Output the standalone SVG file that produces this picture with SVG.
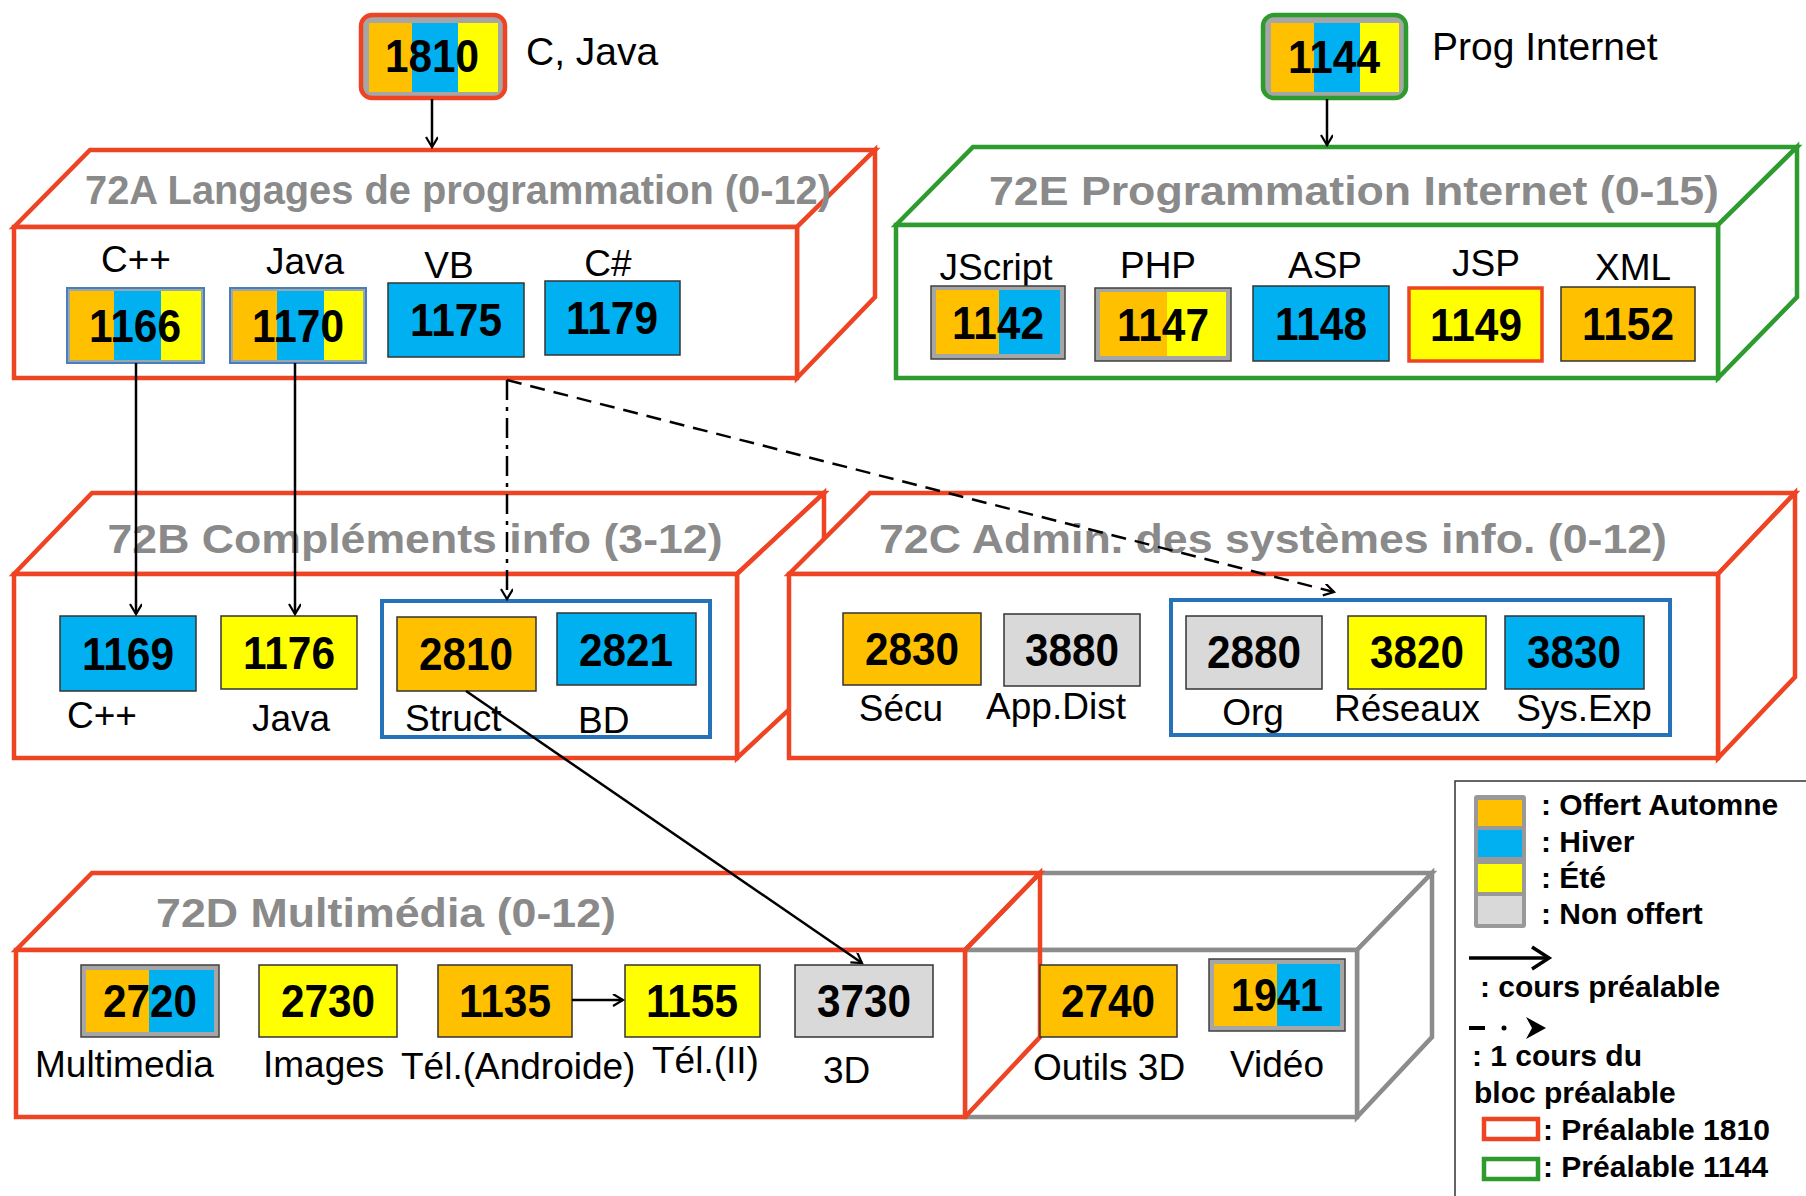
<svg xmlns="http://www.w3.org/2000/svg" width="1806" height="1196" viewBox="0 0 1806 1196">
<defs>
<marker id="ah" markerWidth="14" markerHeight="14" refX="11" refY="6" orient="auto" markerUnits="userSpaceOnUse">
<path d="M1,0 L11,6 L1,12" fill="none" stroke="#000" stroke-width="2.2"/>
</marker>
</defs>
<style>
text{font-family:"Liberation Sans",Arial,sans-serif}
.num{font-size:46px;font-weight:bold;fill:#000;text-anchor:middle}
.lbl{font-size:37px;fill:#000}
.lblc{font-size:37px;fill:#000;text-anchor:middle}
.title{font-size:40px;font-weight:bold;fill:#8a8a8a;text-anchor:middle}
.leg{font-size:30px;font-weight:bold;fill:#000}
.red{fill:none;stroke:#EF4423;stroke-width:4.5;stroke-linejoin:miter}
.redf{fill:#fff;stroke:#EF4423;stroke-width:4.5}
.grnf{fill:#fff;stroke:#2E9B2E;stroke-width:4.5}
.gryf{fill:#fff;stroke:#8C8C8C;stroke-width:4.5}
.grp{fill:none;stroke:#2672B8;stroke-width:4}
.o{fill:#FFC000}.b{fill:#00B0F0}.y{fill:#FFFF00}.g{fill:#D9D9D9}
.pl{stroke:#333;stroke-width:1.5}
.frame{fill:#A6A6A6;stroke:#404040;stroke-width:1.5}
.frameb{fill:#9AA6B0;stroke:#4A7EBB;stroke-width:2}
.con{fill:none;stroke:#000;stroke-width:2.5}
</style>
<rect width="1806" height="1196" fill="#fff"/>

<!-- 72A block -->
<g id="block72A">
<polygon class="redf" points="14,227 90,150 875,150 797,227"/>
<polygon class="redf" points="797,227 875,150 875,297 797,378"/>
<rect class="redf" x="14" y="227" width="783" height="151"/>
<text class="title" x="458" y="204" textLength="746" lengthAdjust="spacingAndGlyphs">72A Langages de programmation (0-12)</text>
<text class="lblc" x="136" y="272">C++</text>
<text class="lblc" x="305" y="274">Java</text>
<text class="lblc" x="449" y="278">VB</text>
<text class="lblc" x="608" y="276">C#</text>
</g>
<g id="c1166"><rect class="frameb" x="67" y="288" width="137" height="75"/><rect class="o" x="70" y="291" width="44" height="69"/><rect class="b" x="114" y="291" width="47" height="69"/><rect class="y" x="161" y="291" width="40" height="69"/><text class="num" x="135" y="342" textLength="92" lengthAdjust="spacingAndGlyphs">1166</text></g>
<g id="c1170"><rect class="frameb" x="230" y="288" width="136" height="75"/><rect class="o" x="233" y="291" width="44" height="69"/><rect class="b" x="277" y="291" width="47" height="69"/><rect class="y" x="324" y="291" width="39" height="69"/><text class="num" x="298" y="342" textLength="92" lengthAdjust="spacingAndGlyphs">1170</text></g>
<g id="c1175"><rect class="b pl" x="388" y="283" width="136" height="74"/><text class="num" x="456" y="336" textLength="92" lengthAdjust="spacingAndGlyphs">1175</text></g>
<g id="c1179"><rect class="b pl" x="545" y="281" width="135" height="74"/><text class="num" x="612" y="334" textLength="92" lengthAdjust="spacingAndGlyphs">1179</text></g>

<!-- 72E block -->
<g id="block72E">
<polygon class="grnf" points="896,225 973,147 1797,147 1718,225"/>
<polygon class="grnf" points="1718,225 1797,147 1797,297 1718,378"/>
<rect class="grnf" x="896" y="225" width="822" height="153"/>
<text class="title" x="1354" y="205" textLength="730" lengthAdjust="spacingAndGlyphs">72E Programmation Internet (0-15)</text>
<text class="lblc" x="996" y="280">JScript</text>
<text class="lblc" x="1158" y="278">PHP</text>
<text class="lblc" x="1325" y="278">ASP</text>
<text class="lblc" x="1486" y="276">JSP</text>
<text class="lblc" x="1633" y="280">XML</text>
</g>
<g id="c1142"><rect class="frame" x="931" y="286" width="134" height="73"/><rect class="o" x="936" y="290" width="63" height="64"/><rect class="b" x="999" y="290" width="61" height="64"/><text class="num" x="998" y="339" textLength="92" lengthAdjust="spacingAndGlyphs">1142</text></g>
<g id="c1147"><rect class="frame" x="1095" y="288" width="136" height="73"/><rect class="o" x="1100" y="292" width="67" height="64"/><rect class="y" x="1167" y="292" width="59" height="64"/><text class="num" x="1163" y="341" textLength="92" lengthAdjust="spacingAndGlyphs">1147</text></g>
<g id="c1148"><rect class="b pl" x="1253" y="286" width="136" height="75"/><text class="num" x="1321" y="340" textLength="92" lengthAdjust="spacingAndGlyphs">1148</text></g>
<g id="c1149"><rect class="y" x="1409" y="288" width="133" height="73" stroke="#EF4423" stroke-width="3.5"/><text class="num" x="1476" y="341" textLength="92" lengthAdjust="spacingAndGlyphs">1149</text></g>
<g id="c1152"><rect class="o pl" x="1561" y="287" width="134" height="74"/><text class="num" x="1628" y="340" textLength="92" lengthAdjust="spacingAndGlyphs">1152</text></g>

<!-- 72B block -->
<g id="block72B">
<polygon class="redf" points="14,574 92,493 824,493 737,574"/>
<polygon class="redf" points="737,574 824,493 824,677 737,758"/>
<rect class="redf" x="14" y="574" width="723" height="184"/>
<text class="title" x="415" y="553" textLength="615" lengthAdjust="spacingAndGlyphs">72B Compléments info (3-12)</text>
<rect class="grp" x="382" y="601" width="328" height="136"/>
<text class="lbl" x="67" y="728">C++</text>
<text class="lbl" x="252" y="731">Java</text>
<text class="lbl" x="405" y="731">Struct</text>
<text class="lbl" x="578" y="733">BD</text>
</g>
<g id="c1169"><rect class="b pl" x="60" y="616" width="136" height="75"/><text class="num" x="128" y="670" textLength="92" lengthAdjust="spacingAndGlyphs">1169</text></g>
<g id="c1176"><rect class="y pl" x="221" y="616" width="136" height="73"/><text class="num" x="289" y="669" textLength="92" lengthAdjust="spacingAndGlyphs">1176</text></g>
<g id="c2810"><rect class="o pl" x="397" y="617" width="139" height="74"/><text class="num" x="466" y="670" textLength="94" lengthAdjust="spacingAndGlyphs">2810</text></g>
<g id="c2821"><rect class="b pl" x="557" y="613" width="139" height="72"/><text class="num" x="626" y="666" textLength="94" lengthAdjust="spacingAndGlyphs">2821</text></g>

<!-- 72C block -->
<g id="block72C">
<polygon class="redf" points="789,574 870,493 1795,493 1718,574"/>
<polygon class="redf" points="1718,574 1795,493 1795,677 1718,758"/>
<rect class="redf" x="789" y="574" width="929" height="184"/>
<text class="title" x="1273" y="553" textLength="788" lengthAdjust="spacingAndGlyphs">72C Admin. des systèmes info. (0-12)</text>
<rect class="grp" x="1171" y="600" width="499" height="135"/>
<text class="lblc" x="901" y="721">Sécu</text>
<text class="lblc" x="1056" y="719">App.Dist</text>
<text class="lblc" x="1253" y="725">Org</text>
<text class="lblc" x="1407" y="721">Réseaux</text>
<text class="lblc" x="1584" y="721">Sys.Exp</text>
</g>
<g id="c2830"><rect class="o pl" x="843" y="613" width="138" height="72"/><text class="num" x="912" y="665" textLength="94" lengthAdjust="spacingAndGlyphs">2830</text></g>
<g id="c3880"><rect class="g pl" x="1004" y="614" width="136" height="72"/><text class="num" x="1072" y="666" textLength="94" lengthAdjust="spacingAndGlyphs">3880</text></g>
<g id="c2880"><rect class="g pl" x="1186" y="616" width="136" height="73"/><text class="num" x="1254" y="668" textLength="94" lengthAdjust="spacingAndGlyphs">2880</text></g>
<g id="c3820"><rect class="y pl" x="1348" y="616" width="138" height="73"/><text class="num" x="1417" y="668" textLength="94" lengthAdjust="spacingAndGlyphs">3820</text></g>
<g id="c3830"><rect class="b pl" x="1505" y="616" width="139" height="73"/><text class="num" x="1574" y="668" textLength="94" lengthAdjust="spacingAndGlyphs">3830</text></g>

<!-- grey block (not in 72D) -->
<g id="blockGray">
<polygon class="gryf" points="965,950 1040,873 1432,873 1357,950"/>
<polygon class="gryf" points="1357,950 1432,873 1432,1037 1357,1117"/>
<rect class="gryf" x="965" y="950" width="392" height="167"/>
<text class="lbl" x="1033" y="1080">Outils 3D</text>
<text class="lbl" x="1230" y="1077">Vidéo</text>
</g>
<!-- 72D block -->
<g id="block72D">
<polygon class="redf" points="16,950 92,873 1040,873 965,950"/>
<polyline class="red" points="965,950 1040,873 1040,1037 965,1117"/>
<rect class="redf" x="16" y="950" width="949" height="167"/>
<text class="title" x="386" y="927" textLength="460" lengthAdjust="spacingAndGlyphs">72D Multimédia (0-12)</text>
<text class="lbl" x="35" y="1077">Multimedia</text>
<text class="lbl" x="263" y="1077">Images</text>
<text class="lbl" x="401" y="1079">Tél.(Androide)</text>
<text class="lbl" x="652" y="1073">Tél.(II)</text>
<text class="lbl" x="823" y="1083">3D</text>
</g>
<g id="c2720"><rect class="frame" x="81" y="965" width="138" height="72"/><rect class="o" x="86" y="970" width="63" height="62"/><rect class="b" x="149" y="970" width="65" height="62"/><text class="num" x="150" y="1017" textLength="94" lengthAdjust="spacingAndGlyphs">2720</text></g>
<g id="c2730"><rect class="y pl" x="259" y="965" width="138" height="72"/><text class="num" x="328" y="1017" textLength="94" lengthAdjust="spacingAndGlyphs">2730</text></g>
<g id="c1135"><rect class="o pl" x="438" y="965" width="134" height="72"/><text class="num" x="505" y="1017" textLength="92" lengthAdjust="spacingAndGlyphs">1135</text></g>
<g id="c1155"><rect class="y pl" x="625" y="965" width="135" height="72"/><text class="num" x="692" y="1017" textLength="92" lengthAdjust="spacingAndGlyphs">1155</text></g>
<g id="c3730"><rect class="g pl" x="795" y="965" width="138" height="72"/><text class="num" x="864" y="1017" textLength="94" lengthAdjust="spacingAndGlyphs">3730</text></g>
<g id="c2740"><rect class="o pl" x="1040" y="965" width="137" height="72"/><text class="num" x="1108" y="1017" textLength="94" lengthAdjust="spacingAndGlyphs">2740</text></g>
<g id="c1941"><rect class="frame" x="1209" y="959" width="136" height="72"/><rect class="o" x="1214" y="964" width="63" height="62"/><rect class="b" x="1277" y="964" width="63" height="62"/><text class="num" x="1277" y="1011" textLength="92" lengthAdjust="spacingAndGlyphs">1941</text></g>

<!-- top prerequisite courses -->
<g id="c1810">
<rect x="361" y="15" width="144" height="83" rx="11" fill="#A6A6A6" stroke="#EF4423" stroke-width="4.5"/>
<rect class="o" x="369" y="23" width="43" height="69"/><rect class="b" x="412" y="23" width="46" height="69"/><rect class="y" x="458" y="23" width="40" height="69"/>
<text class="num" x="432" y="72" textLength="94" lengthAdjust="spacingAndGlyphs">1810</text>
<text class="lbl" x="526" y="65" style="font-size:39px">C, Java</text>
</g>
<g id="c1144">
<rect x="1263" y="15" width="143" height="83" rx="11" fill="#A6A6A6" stroke="#2E9B2E" stroke-width="4.5"/>
<rect class="o" x="1271" y="23" width="43" height="69"/><rect class="b" x="1314" y="23" width="46" height="69"/><rect class="y" x="1360" y="23" width="39" height="69"/>
<text class="num" x="1334" y="73" textLength="92" lengthAdjust="spacingAndGlyphs">1144</text>
<text class="lbl" x="1432" y="60" style="font-size:39px">Prog Internet</text>
</g>

<!-- connectors -->
<g id="connectors">
<line class="con" x1="432" y1="99" x2="432" y2="147" marker-end="url(#ah)"/>
<line class="con" x1="1327" y1="99" x2="1327" y2="145" marker-end="url(#ah)"/>
<line class="con" x1="136" y1="363" x2="136" y2="614" marker-end="url(#ah)"/>
<line class="con" x1="295" y1="363" x2="295" y2="614" marker-end="url(#ah)"/>
<line class="con" x1="507" y1="380" x2="507" y2="599" stroke-dasharray="20 7 4 7" stroke-width="3" marker-end="url(#ah)"/>
<line class="con" x1="507" y1="380" x2="1334" y2="592" stroke-dasharray="15 9" stroke-width="3" marker-end="url(#ah)"/>
<line class="con" x1="466" y1="691" x2="862" y2="963" marker-end="url(#ah)"/>
<line class="con" x1="572" y1="1000" x2="623" y2="1000" marker-end="url(#ah)"/>
</g>

<!-- legend -->
<g id="legend">
<rect x="1455" y="781" width="380" height="440" fill="#fff" stroke="#333" stroke-width="1.5"/>
<rect x="1474" y="795" width="52" height="133" rx="3" fill="#999"/>
<rect class="o" x="1478" y="800" width="44" height="26"/>
<rect class="b" x="1478" y="830" width="44" height="27"/>
<rect class="y" x="1478" y="864" width="44" height="28"/>
<rect class="g" x="1478" y="896" width="44" height="28"/>
<text class="leg" x="1541" y="815">: Offert Automne</text>
<text class="leg" x="1541" y="852">: Hiver</text>
<text class="leg" x="1541" y="888">: Été</text>
<text class="leg" x="1541" y="924">: Non offert</text>
<line x1="1469" y1="958" x2="1547" y2="958" stroke="#000" stroke-width="3.5"/>
<path d="M1532,947 L1549,958 L1532,969" fill="none" stroke="#000" stroke-width="3.5"/>
<text class="leg" x="1480" y="997">: cours préalable</text>
<line x1="1469" y1="1028" x2="1485" y2="1028" stroke="#000" stroke-width="4"/>
<circle cx="1504" cy="1028" r="2.5" fill="#000"/>
<path d="M1526,1017 L1546,1028 L1526,1039 L1532,1028 Z" fill="#000"/>
<text class="leg" x="1472" y="1066">: 1 cours du</text>
<text class="leg" x="1474" y="1103">bloc préalable</text>
<rect x="1484" y="1119" width="54" height="20" fill="#fff" stroke="#EF4423" stroke-width="4.5"/>
<text class="leg" x="1543" y="1140">: Préalable 1810</text>
<rect x="1484" y="1159" width="54" height="20" fill="#fff" stroke="#2E9B2E" stroke-width="4.5"/>
<text class="leg" x="1543" y="1177">: Préalable 1144</text>
</g>
</svg>
